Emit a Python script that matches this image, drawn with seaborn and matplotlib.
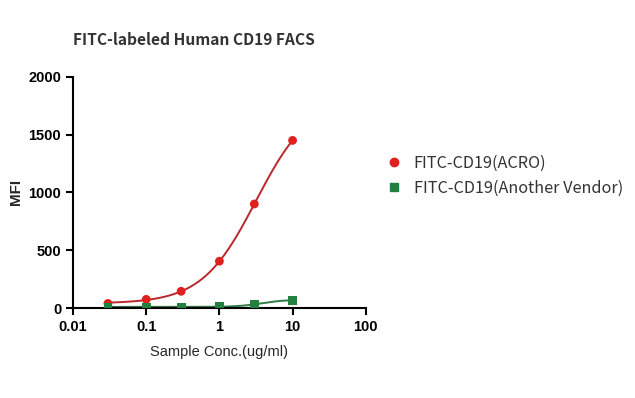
import numpy as np
import pandas as pd
import matplotlib
matplotlib.use("Agg")
import matplotlib.pyplot as plt
import seaborn as sns
from matplotlib.lines import Line2D

# Data
conc = [0.03, 0.1, 0.3, 1, 3, 10]
acro = [40, 75, 145, 405, 900, 1450]
vendor = [10, 10, 10, 12, 32, 68]
series_names = ["FITC-CD19(ACRO)", "FITC-CD19(Another Vendor)"]

df = pd.DataFrame({
    "conc": conc * 2,
    "mfi": acro + vendor,
    "series": [series_names[0]] * len(conc) + [series_names[1]] * len(conc),
})


def fit_4pl(x, y):
    # grid search on EC50/hill, linear least squares for bottom/top
    lx = np.log10(x)
    best = None
    for lc in np.linspace(-1, 3, 161):
        for b in np.linspace(0.5, 3, 101):
            g = 1.0 / (1 + 10 ** (b * (lc - lx)))
            A = np.column_stack([np.ones_like(g), g])
            p, *_ = np.linalg.lstsq(A, y, rcond=None)
            err = np.sum((A @ p - y) ** 2)
            if best is None or err < best[0]:
                best = (err, lc, b, p)
    _, lc, b, p = best
    return lambda xx: p[0] + p[1] / (1 + 10 ** (b * (lc - np.log10(xx))))


sns.set_style("ticks")
plt.rcParams["font.family"] = ["Liberation Sans", "DejaVu Sans"]

fig = plt.figure(figsize=(6.35, 3.98), dpi=100)
ax = fig.add_axes([0.115, 0.226, 0.461, 0.581])

colors = {series_names[0]: "#e0201f", series_names[1]: "#23803f"}
line_colors = {series_names[0]: "#b8282c", series_names[1]: "#2f7a45"}
markers = {series_names[0]: "o", series_names[1]: "s"}

# dose-response fitted curves
for name in series_names:
    sub = df[df["series"] == name]
    f = fit_4pl(sub["conc"].values, sub["mfi"].values.astype(float))
    xs = np.logspace(np.log10(min(conc)), np.log10(max(conc)), 200)
    ax.plot(xs, f(xs), color=line_colors[name], lw=1.4, zorder=2)

sns.scatterplot(data=df, x="conc", y="mfi", hue="series", style="series",
                palette=colors, markers=markers, s=40, edgecolor="none",
                ax=ax, zorder=3, legend=False)

ax.set_xscale("log")
ax.set_xlim(0.01, 100)
ax.set_ylim(0, 2000)
ax.set_xticks([0.01, 0.1, 1, 10, 100])
ax.set_xticklabels(["0.01", "0.1", "1", "10", "100"])
ax.set_yticks([0, 500, 1000, 1500, 2000])
ax.minorticks_off()
for s in ["top", "right"]:
    ax.spines[s].set_visible(False)
for s in ["left", "bottom"]:
    ax.spines[s].set_linewidth(1.5)
    ax.spines[s].set_color("black")
ax.tick_params(axis="both", direction="out", length=5, width=1.5, colors="black",
               labelsize=10.5)
for lab in ax.get_xticklabels() + ax.get_yticklabels():
    lab.set_fontweight("bold")

ax.set_xlabel("Sample Conc.(ug/ml)", fontsize=10.5, labelpad=8)
ax.set_ylabel("MFI", fontsize=11, fontweight="bold", labelpad=4)

cjk = ["Noto Sans CJK SC", "DejaVu Sans"]
fig.text(0.115, 0.888, "FITC-labeled Human CD19 FACS", fontsize=11.2,
         family=cjk, color="#333333", fontweight="bold")

# legend
handles = [Line2D([], [], ls="none", marker=markers[n], color=colors[n], markersize=6)
           for n in series_names]
leg = fig.legend(handles, series_names, loc="upper left", bbox_to_anchor=(0.572, 0.648),
                 frameon=False, handletextpad=0.2, labelspacing=0.5,
                 prop={"family": cjk, "size": 11.7, "weight": "medium"})
for t in leg.get_texts():
    t.set_color("#333333")

fig.savefig("out.png", dpi=100)
